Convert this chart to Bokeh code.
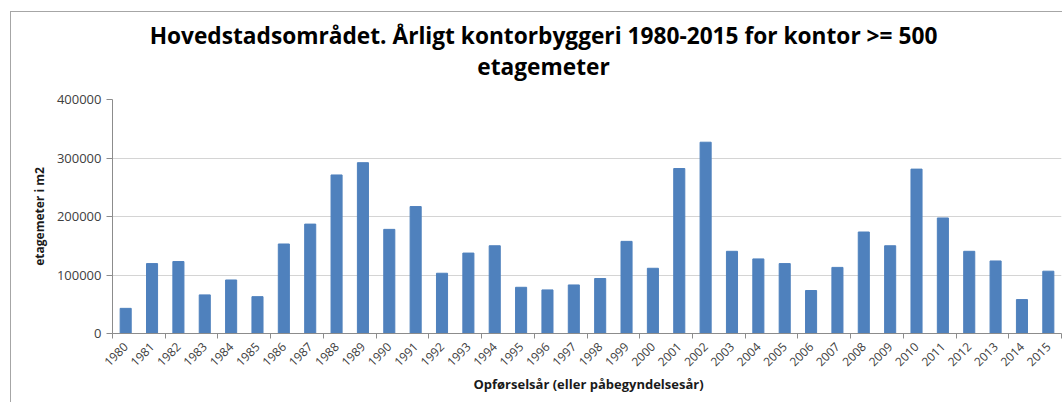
from bokeh.plotting import figure
from bokeh.models import (Range1d, FixedTicker, BasicTickFormatter, Label)
from bokeh.embed import file_html
from bokeh.resources import INLINE
import math

# ---- data ----
years = list(range(1980, 2016))
year_labels = [str(y) for y in years]
values = [43000, 119500, 123000, 66000, 91500, 63000, 153000, 187000, 271000, 292000,
          178000, 217000, 103000, 137500, 150000, 79000, 74500, 83000, 94000, 157500,
          111500, 282000, 327000, 140500, 127500, 119500, 73500, 113000, 173500, 150000,
          281000, 197500, 140500, 124000, 58000, 106500]
y_ticks = [0, 100000, 200000, 300000, 400000]

title_line1 = "Hovedstadsområdet. Årligt kontorbyggeri 1980-2015 for kontor >= 500"
title_line2 = "etagemeter"
x_title = "Opførselsår (eller påbegyndelsesår)"
y_title = "etagemeter i m2"

FONT = "Open Sans"

p = figure(width=1062, height=402, output_backend="svg", toolbar_location=None,
           x_range=Range1d(years[0] - 0.5, years[-1] + 0.5),
           y_range=Range1d(0, 400000),
           min_border_left=112, min_border_right=1, min_border_top=99, min_border_bottom=69)
p.outline_line_color = None
p.background_fill_color = "white"
p.border_fill_alpha = 0
p.styles = {"background": "linear-gradient(#a6a6a6,#a6a6a6) 10px 11px / 1px 100% no-repeat, "
                          "linear-gradient(#a6a6a6,#a6a6a6) 10px 11px / 100% 1px no-repeat, white"}

p.vbar(x=years, top=values, width=0.42, fill_color="#4F81BD", line_color="#4F81BD")

# y axis
p.yaxis.ticker = FixedTicker(ticks=y_ticks)
p.yaxis.formatter = BasicTickFormatter(use_scientific=False)
p.yaxis.axis_line_color = "#8c8c8c"
p.yaxis.major_tick_line_color = "#8c8c8c"
p.yaxis.major_tick_out = 6
p.yaxis.major_tick_in = 0
p.yaxis.minor_tick_line_color = None
p.yaxis.major_label_text_font = FONT
p.yaxis.major_label_text_font_size = "13px"
p.yaxis.major_label_text_color = "#404040"
p.yaxis.major_label_standoff = 5
p.yaxis.axis_label = y_title
p.yaxis.axis_label_text_font = FONT
p.yaxis.axis_label_text_font_style = "bold"
p.yaxis.axis_label_text_font_size = "12px"
p.yaxis.axis_label_text_color = "#1a1a1a"
p.yaxis.axis_label_standoff = 6

# x axis
p.xaxis.ticker = FixedTicker(ticks=years,
                             minor_ticks=[years[0] - 0.5 + 2 * k for k in range(19)])
p.xaxis.major_label_overrides = {y: lab for y, lab in zip(years, year_labels)}
p.xaxis.major_label_orientation = math.pi / 4
p.xaxis.major_tick_line_color = None
p.xaxis.major_tick_out = 0
p.xaxis.major_tick_in = 0
p.xaxis.minor_tick_line_color = "#8c8c8c"
p.xaxis.minor_tick_out = 5
p.xaxis.minor_tick_in = 0
p.xaxis.axis_line_color = "#8c8c8c"
p.xaxis.major_label_text_font = FONT
p.xaxis.major_label_text_font_size = "12px"
p.xaxis.major_label_text_color = "#404040"
p.xaxis.major_label_standoff = 6

p.xgrid.grid_line_color = None
p.ygrid.ticker = FixedTicker(ticks=y_ticks)
p.ygrid.grid_line_color = "#d4d4d4"
p.ygrid.grid_line_width = 1

# titles placed in side panels (coordinates relative to the panel)
p.add_layout(Label(x=431, y=48.5, x_units="screen", y_units="screen",
                   text=title_line1 + "\n" + title_line2,
                   text_font=FONT, text_font_style="bold", text_font_size="22.7px",
                   text_line_height=1.0,
                   text_align="center", text_baseline="middle", text_color="black"), "above")
p.add_layout(Label(x=476, y=8, x_units="screen", y_units="screen", text=x_title,
                   text_font=FONT, text_font_style="bold", text_font_size="13px",
                   text_align="center", text_baseline="middle", text_color="#1a1a1a"), "below")

open("out.html", "w").write(file_html(p, INLINE))
